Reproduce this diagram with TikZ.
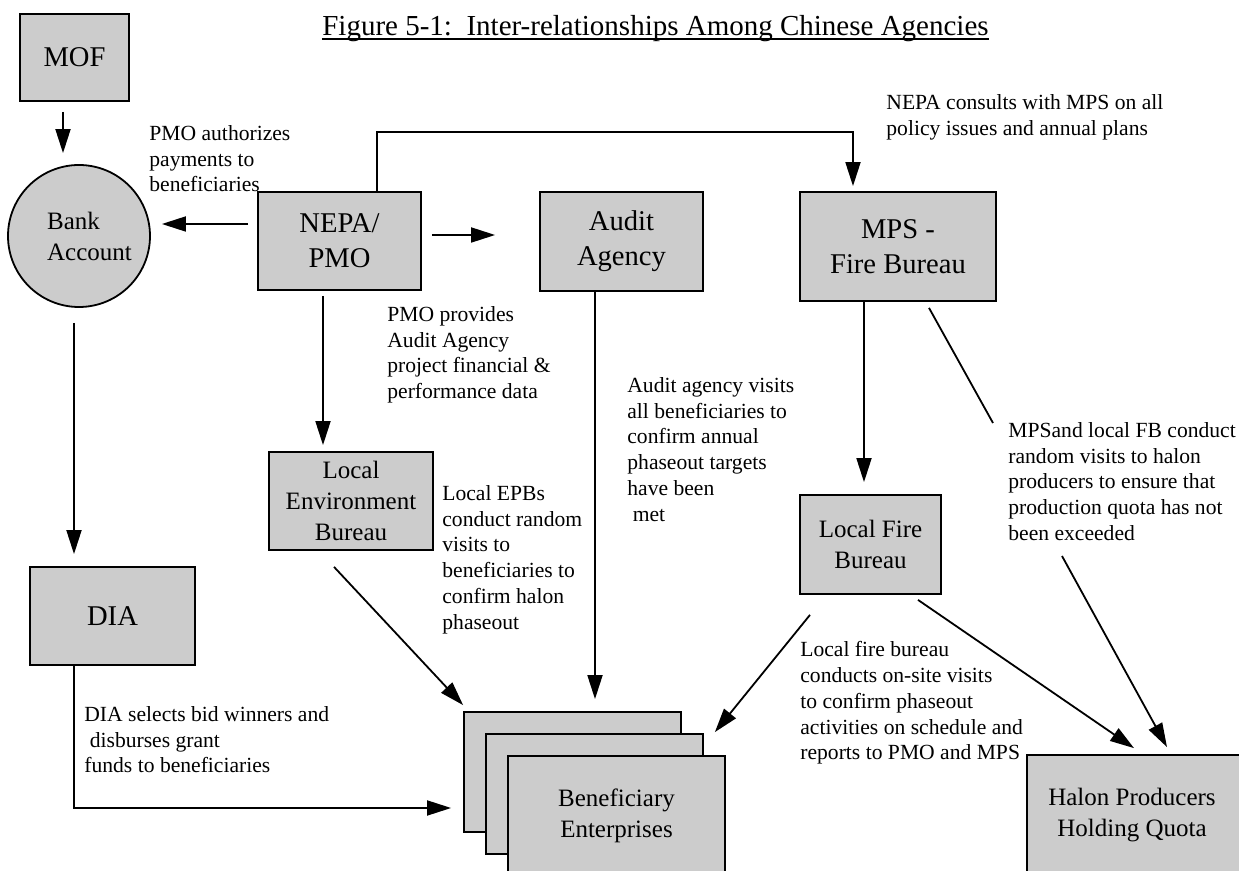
\documentclass[tikz,border=0pt]{standalone}
\usepackage{fontspec}
\setmainfont{Liberation Serif}
\usetikzlibrary{calc, arrows.meta}
\definecolor{boxgray}{gray}{0.8}

\begin{document}
\begin{tikzpicture}[x=0.5pt, y=-0.5pt,
  box/.style={draw, fill=boxgray, line width=0.9pt, align=center, inner sep=0pt},
  bigfont/.style={font=\fontsize{14.3}{17.5}\selectfont},
  midfont/.style={font=\fontsize{12.5}{15.5}\selectfont},
  note/.style={anchor=north west, align=left, inner sep=0pt, font=\fontsize{10.8}{12.9}\selectfont},
  arr/.style={-{Triangle[length=12pt, width=7.5pt]}, line width=0.9pt}]
  % 画布
  \clip (0,0) rectangle (1239,871);
  % 标题
  \node[font=\fontsize{14.5}{17}\selectfont, anchor=base, inner sep=0pt] (title) at (655.5,36) {Figure 5-1:\ \ Inter-relationships Among Chinese Agencies};
  \draw[line width=0.6pt] ($(title.base west)+(0,3)$) -- ($(title.base east)+(0,3)$);
  % 机构
  \node[box, bigfont, minimum width=54.5pt, minimum height=43.5pt] (mof) at (74.5,57.5) {MOF};
  \node[circle, draw, fill=boxgray, line width=0.9pt, minimum size=71pt,
        label={[midfont, align=left, xshift=5.25pt]center:Bank\\Account}] (bank) at (79,236) {};
  \node[box, bigfont, minimum width=81.5pt, minimum height=49pt] (nepa) at (339.5,241) {NEPA/\\PMO};
  \node[box, bigfont, minimum width=81.5pt, minimum height=49.5pt] (audit) at (621.5,241.5) {Audit\\Agency};
  \node[box, bigfont, minimum width=98pt, minimum height=54.5pt] (mps) at (898,246.5) {MPS -\\Fire Bureau};
  \node[box, midfont, minimum width=82pt, minimum height=49pt] (env) at (351,501) {Local\\Environment\\Bureau};
  \node[box, bigfont, minimum width=82.5pt, minimum height=49pt] (dia) at (112.5,616) {DIA};
  \node[box, midfont, minimum width=70.5pt, minimum height=49.5pt] (fire) at (870.5,544.5) {Local Fire\\Bureau};
  % 受益企业 (三层)
  \node[box, minimum width=108.5pt, minimum height=60pt] (benef1) at (572.5,772) {};
  \node[box, minimum width=108.5pt, minimum height=60pt] (benef2) at (594.5,794) {};
  \node[box, midfont, minimum width=108.5pt, minimum height=60pt] (benef3) at (616.5,816) {Beneficiary\\Enterprises};
  \node[box, minimum width=115pt, minimum height=60pt,
        label={[midfont, align=center, xshift=-5pt]center:Halon Producers\\Holding Quota}] (halon) at (1142,815) {};
  % 说明文字
  \node[note] (auth) at (149,125) {PMO authorizes\\payments to\\beneficiaries};
  \node[note] (consult) at (886,94) {NEPA consults with MPS on all\\policy issues and annual plans};
  \node[note] (provides) at (387,306) {PMO provides\\Audit Agency\\project financial \&\\performance data};
  \node[note] (epbs) at (442,485) {Local EPBs\\conduct random\\visits to\\beneficiaries to\\confirm halon\\phaseout};
  \node[note] (auditnote) at (627,377) {Audit agency visits\\all beneficiaries to\\confirm annual\\phaseout targets\\have been\\\ met};
  \node[note] (mpsnote) at (1008,422) {MPSand local FB conduct\\random visits to halon\\producers to ensure that\\production quota has not\\been exceeded};
  \node[note] (dianote) at (84,706) {DIA selects bid winners and\\\ disburses grant\\funds to beneficiaries};
  \node[note] (firenote) at (800,641) {Local fire bureau\\conducts on-site visits\\to confirm phaseout\\activities on schedule and\\reports to PMO and MPS};
  % 连线
  \draw[arr] ($(mof.south)+(-11.5,10)$) -- ($(bank.north)+(-16,-11)$);
  \draw[arr] ($(nepa.west)+(-9,-17)$) -- ($(bank.east)+(11,-12)$);
  \draw[arr] ($(nepa.east)+(10,-6)$) -- ($(audit.west)+(-44,-6.5)$);
  \draw[arr] ($(nepa.north)+(37.5,0)$) -- ++(0,-59) -| ($(mps.north)+(-45,-5)$);
  \draw[arr] ($(nepa.south)+(-16.5,5)$) -- ($(env.north)+(-28,-6)$);
  \draw[arr] ($(audit.south)+(-26.5,0)$) -- ($(benef1.north)+(22.5,-12)$);
  \draw[arr] ($(bank.south)+(-5,15)$) -- ($(dia.north)+(-38.5,-12)$);
  \draw[arr] ($(dia.south)+(-38.5,0)$) |- ($(benef1.west)+(-12,36)$);
  \draw[arr] ($(env.south)+(-17,16)$) -- ($(benef1.north west)+(0,-6)$);
  \draw[arr] ($(mps.south)+(-34,0)$) -- ($(fire.north)+(-6.5,-12)$);
  \draw[line width=0.9pt] ($(mps.south)+(31,6)$) -- ($(mpsnote.north west)+(-15,1)$);
  \draw[arr] ($(mpsnote.north west)+(54,134)$) -- ($(halon.north)+(25,-7)$);
  \draw[arr] ($(fire.south)+(-60.5,20)$) -- ($(benef2.north east)+(11,-1)$);
  \draw[arr] ($(fire.south)+(47.5,5)$) -- ($(halon.north)+(-8,-6)$);
\end{tikzpicture}
\end{document}
